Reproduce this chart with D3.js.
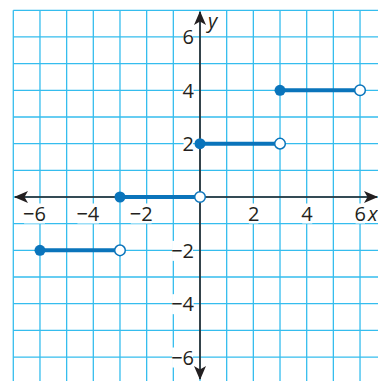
<!DOCTYPE html>
<html>
<head>
<meta charset="utf-8">
<script src="https://cdn.jsdelivr.net/npm/d3@7"></script>
<style>
  body { margin: 0; background: #fff; }
  svg { display: block; }
</style>
</head>
<body>
<div id="chart"></div>
<script>
// step pieces: start x, end x, y value
const startX = [-6, -3, 0, 3];
const endX = [-3, 0, 3, 6];
const stepY = [-2, 0, 2, 4];
const xTicks = [-6, -4, -2, 2, 4, 6];
const yTicks = [-6, -4, -2, 2, 4, 6];
const gridVals = d3.range(-7, 8);

const width = 378;
const height = 381;

const x = d3.scaleLinear().domain([-7, 7]).range([13.3, 386.7]);
const y = d3.scaleLinear().domain([-7, 7]).range([383.7, 10.3]);

const gridColor = "#35bdee";
const stepColor = "#0a74bb";
const axisColor = "#231f20";

const svg = d3.select("#chart")
    .append("svg")
    .attr("width", width)
    .attr("height", height);

// grid
const grid = svg.append("g");
grid.selectAll(".vline")
    .data(gridVals)
    .enter()
    .append("line")
    .attr("x1", d => x(d)).attr("x2", d => x(d))
    .attr("y1", y(7)).attr("y2", y(-7))
    .attr("stroke", gridColor)
    .attr("stroke-width", 1.3);
grid.selectAll(".hline")
    .data(gridVals)
    .enter()
    .append("line")
    .attr("y1", d => y(d)).attr("y2", d => y(d))
    .attr("x1", x(-7)).attr("x2", x(7))
    .attr("stroke", gridColor)
    .attr("stroke-width", 1.3);

// axes
svg.append("defs").append("marker")
    .attr("id", "arrow")
    .attr("viewBox", "0 0 14 12")
    .attr("refX", 13)
    .attr("refY", 6)
    .attr("markerWidth", 14)
    .attr("markerHeight", 12)
    .attr("markerUnits", "userSpaceOnUse")
    .attr("orient", "auto-start-reverse")
    .append("path")
    .attr("d", "M0,0 L14,6 L0,12 L3.5,6 Z")
    .attr("fill", axisColor);

svg.append("line")
    .attr("x1", 15).attr("x2", 377)
    .attr("y1", y(0)).attr("y2", y(0))
    .attr("stroke", axisColor)
    .attr("stroke-width", 1.6)
    .attr("marker-start", "url(#arrow)")
    .attr("marker-end", "url(#arrow)");

svg.append("line")
    .attr("x1", x(0)).attr("x2", x(0))
    .attr("y1", 379).attr("y2", 12)
    .attr("stroke", axisColor)
    .attr("stroke-width", 1.6)
    .attr("marker-start", "url(#arrow)")
    .attr("marker-end", "url(#arrow)");

// tick labels with white boxes
const fmt = d => d < 0 ? "\u2212" + Math.abs(d) : String(d);
const font = "'Open Sans', sans-serif";

function addLabel(tx, ty, txt, anchor) {
    const g = svg.append("g");
    const t = g.append("text")
        .attr("x", tx).attr("y", ty)
        .attr("text-anchor", anchor)
        .attr("font-family", font)
        .attr("font-size", 20)
        .attr("fill", axisColor)
        .text(txt);
    const b = t.node().getBBox();
    g.insert("rect", "text")
        .attr("x", b.x + 1).attr("y", b.y + 4)
        .attr("width", b.width - 2).attr("height", b.height - 7)
        .attr("fill", "#fff");
}

xTicks.forEach(d => {
    addLabel(x(d) + 6, y(0) + 23.5, fmt(d), "end");
});
yTicks.forEach(d => {
    addLabel(x(0) - 6, y(d) + 7.5, fmt(d), "end");
});

svg.append("text")
    .attr("x", 368).attr("y", y(0) + 23.5)
    .attr("font-family", font)
    .attr("font-style", "italic")
    .attr("font-size", 20)
    .attr("fill", axisColor)
    .text("x");
svg.append("text")
    .attr("x", x(0) + 8).attr("y", 28)
    .attr("font-family", font)
    .attr("font-style", "italic")
    .attr("font-size", 20)
    .attr("fill", axisColor)
    .text("y");

// step function
const steps = startX.map((s, i) => ({ s: s, e: endX[i], v: stepY[i] }));

svg.selectAll(".seg")
    .data(steps)
    .enter()
    .append("line")
    .attr("x1", d => x(d.s)).attr("x2", d => x(d.e))
    .attr("y1", d => y(d.v)).attr("y2", d => y(d.v))
    .attr("stroke", stepColor)
    .attr("stroke-width", 4);

svg.selectAll(".closed")
    .data(steps)
    .enter()
    .append("circle")
    .attr("cx", d => x(d.s)).attr("cy", d => y(d.v))
    .attr("r", 5.5)
    .attr("fill", stepColor);

svg.selectAll(".open")
    .data(steps)
    .enter()
    .append("circle")
    .attr("cx", d => x(d.e)).attr("cy", d => y(d.v))
    .attr("r", 5.3)
    .attr("fill", "#fff")
    .attr("stroke", stepColor)
    .attr("stroke-width", 1.5);
</script>
</body>
</html>
